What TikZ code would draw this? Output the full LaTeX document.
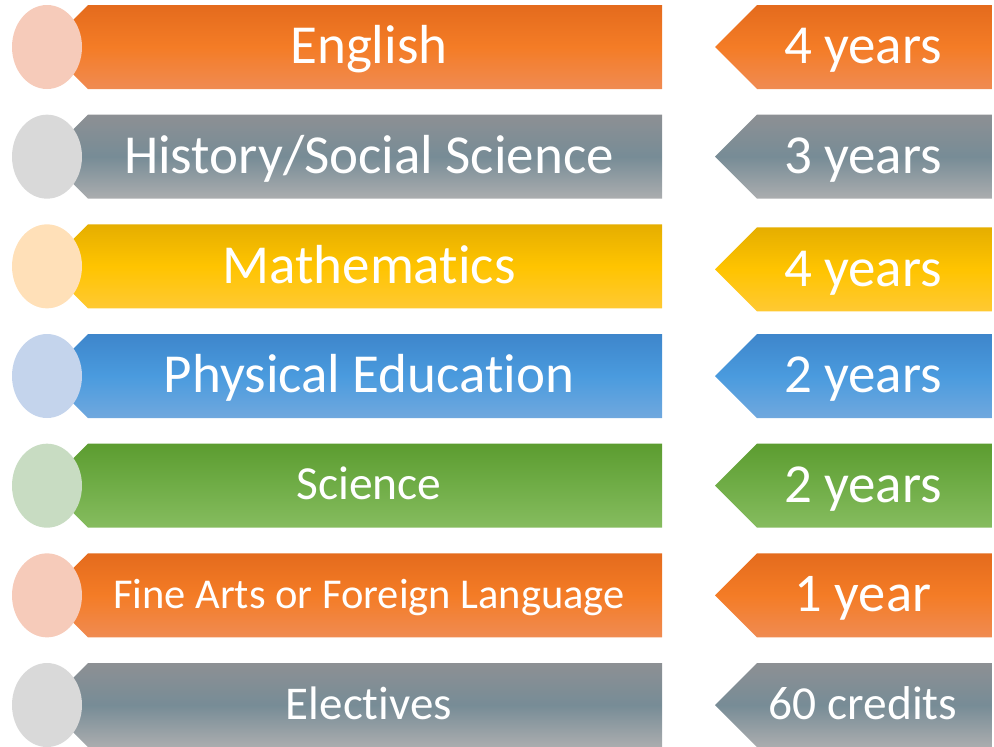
\documentclass[tikz,border=0pt]{standalone}
\usepackage{fontspec}
\setmainfont{Carlito}[Ligatures={NoCommon}]
\usetikzlibrary{shapes.geometric}
\definecolor{orA}{HTML}{E46B1D}\definecolor{orB}{HTML}{F47C26}\definecolor{orC}{HTML}{F08B52}\definecolor{orE}{HTML}{F6CBBA}
\definecolor{grA}{HTML}{8D9094}\definecolor{grB}{HTML}{778C96}\definecolor{grC}{HTML}{ABADAF}\definecolor{grE}{HTML}{D9D9D9}
\definecolor{yeA}{HTML}{E5AE00}\definecolor{yeB}{HTML}{FFC400}\definecolor{yeC}{HTML}{FFC933}\definecolor{yeE}{HTML}{FFE0B8}
\definecolor{blA}{HTML}{3E86CB}\definecolor{blB}{HTML}{4A9BDE}\definecolor{blC}{HTML}{70A8DE}\definecolor{blE}{HTML}{C4D4EC}
\definecolor{gnA}{HTML}{5C9C30}\definecolor{gnB}{HTML}{70AD47}\definecolor{gnC}{HTML}{86BC5F}\definecolor{gnE}{HTML}{C8DCC2}
\begin{document}
\begin{tikzpicture}[x=1pt,y=-1pt,
  lbl/.style={text=white, inner sep=0pt, anchor=base},
  dot/.style={ellipse, inner sep=0pt, minimum width=70pt, minimum height=84pt}]
\useasboundingbox (0,0) rectangle (994,747);
\foreach \i/\lt/\lfs/\rt/\rfs/\col/\dy in {
  0/English/55/4 years/55/or/0,
  1/History\slash Social Science/55/3 years/55/gr/0,
  2/Mathematics/55/4 years/55/ye/3,
  3/Physical Education/55/2 years/55/bl/0,
  4/Science/47.5/2 years/55/gn/0,
  5/Fine Arts or Foreign Language/42.5/1 year/54.5/or/0,
  6/Electives/47/60 credits/47.4/gr/0}{
  \pgfmathsetmacro\T{5+109.67*\i}
  \pgfmathsetmacro\B{\T+84}
  \pgfmathsetmacro\M{\T+42}
  \pgfmathsetmacro\Tr{\T+\dy}
  \pgfmathsetmacro\Br{\B+\dy}
  \pgfmathsetmacro\Mr{\M+\dy}
  \pgfmathsetmacro\lb{\M-1+0.322*\lfs}
  \pgfmathsetmacro\rb{\Mr-1+0.322*\rfs}
  \shade[top color=\col A, bottom color=\col C, middle color=\col B]
    (88,\T) -- (662,\T) -- (662,\B) -- (88,\B) -- (46,\M) -- cycle;
  \shade[top color=\col A, bottom color=\col C, middle color=\col B]
    (757,\Tr) -- (992,\Tr) -- (992,\Br) -- (757,\Br) -- (715,\Mr) -- cycle;
  \node[dot, fill=\col E] (e\i) at (47,\M) {};
  \node[lbl, font=\fontsize{\lfs}{\lfs}\selectfont] (l\i) at (369,\lb) {\lt};
  \node[lbl, font=\fontsize{\rfs}{\rfs}\selectfont] (r\i) at (863,\rb) {\rt};
}
\end{tikzpicture}
\end{document}
